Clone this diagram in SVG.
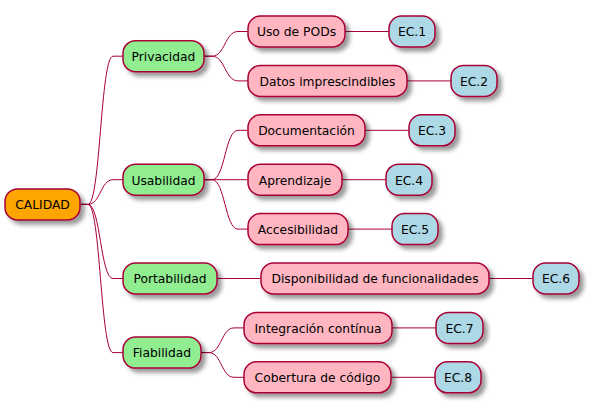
<svg xmlns="http://www.w3.org/2000/svg" width="589" height="405" viewBox="0 0 589 405">
<defs>
<filter id="sh" x="-1" y="-1" width="300%" height="300%">
<feGaussianBlur stdDeviation="2" result="b"/>
<feColorMatrix in="b" type="matrix" values="0 0 0 0 0 0 0 0 0 0 0 0 0 0 0 0 0 0 .4 0" result="b2"/>
<feOffset dx="4" dy="4" in="b2" result="b3"/>
<feBlend in="SourceGraphic" in2="b3" mode="normal"/>
</filter>
</defs>
<style>
rect{stroke:#A80036;stroke-width:1.5;filter:url(#sh)}
.root{fill:#FFA500}
.l1{fill:#90EE90}
.l2{fill:#FFB6C1}
.l3{fill:#ADD8E6}
text{font-family:"DejaVu Sans",sans-serif;font-size:12.3px;fill:#000;text-anchor:middle}
#links path{fill:none;stroke:#A80036;stroke-width:1}
</style>
<g id="links">
<path d="M80,204.4 L88,204.4 C100.5,204.4 100.5,56.2 113,56.2 L123,56.2"/>
<path d="M80,204.4 L88,204.4 C100.5,204.4 100.5,179.7 113,179.7 L123,179.7"/>
<path d="M80,204.4 L88,204.4 C100.5,204.4 100.5,278.5 113,278.5 L123,278.5"/>
<path d="M80,204.4 L88,204.4 C100.5,204.4 100.5,352.6 113,352.6 L123,352.6"/>
<path d="M204,56.2 L212,56.2 C225,56.2 225,31.5 238,31.5 L248,31.5"/>
<path d="M204,56.2 L212,56.2 C225,56.2 225,80.9 238,80.9 L248,80.9"/>
<path d="M204,179.7 L212,179.7 C225,179.7 225,130.3 238,130.3 L248,130.3"/>
<path d="M204,179.7 L248,179.7"/>
<path d="M204,179.7 L212,179.7 C225,179.7 225,229.1 238,229.1 L248,229.1"/>
<path d="M217,278.5 L261,278.5"/>
<path d="M201,352.6 L209,352.6 C221.5,352.6 221.5,327.9 234,327.9 L244,327.9"/>
<path d="M201,352.6 L209,352.6 C221.5,352.6 221.5,377.3 234,377.3 L244,377.3"/>
<path d="M345,31.5 L389,31.5"/>
<path d="M407,80.9 L451,80.9"/>
<path d="M365,130.3 L409,130.3"/>
<path d="M342,179.7 L386,179.7"/>
<path d="M348,229.1 L392,229.1"/>
<path d="M489,278.5 L533,278.5"/>
<path d="M392,327.9 L436,327.9"/>
<path d="M391,377.3 L435,377.3"/>
</g>
<g id="n-calidad"><rect class="root" x="5" y="188.9" width="75" height="31" rx="12.5"/><text x="42.5" y="209.2">CALIDAD</text></g>
<g id="n-privacidad"><rect class="l1" x="123" y="40.7" width="81" height="31" rx="12.5"/><text x="163.5" y="61">Privacidad</text></g>
<g id="n-usabilidad"><rect class="l1" x="123" y="164.2" width="81" height="31" rx="12.5"/><text x="163.5" y="184.5">Usabilidad</text></g>
<g id="n-portabilidad"><rect class="l1" x="123" y="263" width="94" height="31" rx="12.5"/><text x="170" y="283.3">Portabilidad</text></g>
<g id="n-fiabilidad"><rect class="l1" x="123" y="337.1" width="78" height="31" rx="12.5"/><text x="162" y="357.4">Fiabilidad</text></g>
<g id="n-pods"><rect class="l2" x="248" y="16" width="97" height="31" rx="12.5"/><text x="296.5" y="36.3">Uso de PODs</text></g>
<g id="n-datos"><rect class="l2" x="248" y="65.4" width="159" height="31" rx="12.5"/><text x="327.5" y="85.7">Datos imprescindibles</text></g>
<g id="n-doc"><rect class="l2" x="248" y="114.8" width="117" height="31" rx="12.5"/><text x="306.5" y="135.1">Documentación</text></g>
<g id="n-apr"><rect class="l2" x="248" y="164.2" width="94" height="31" rx="12.5"/><text x="295" y="184.5">Aprendizaje</text></g>
<g id="n-acc"><rect class="l2" x="248" y="213.6" width="100" height="31" rx="12.5"/><text x="298" y="233.9">Accesibilidad</text></g>
<g id="n-disp"><rect class="l2" x="261" y="263" width="228" height="31" rx="12.5"/><text x="375" y="283.3">Disponibilidad de funcionalidades</text></g>
<g id="n-int"><rect class="l2" x="244" y="312.4" width="148" height="31" rx="12.5"/><text x="318" y="332.7">Integración contínua</text></g>
<g id="n-cob"><rect class="l2" x="244" y="361.8" width="147" height="31" rx="12.5"/><text x="317.5" y="382.1">Cobertura de código</text></g>
<g id="n-ec1"><rect class="l3" x="389" y="16" width="46" height="31" rx="12.5"/><text x="412" y="36.3">EC.1</text></g>
<g id="n-ec2"><rect class="l3" x="451" y="65.4" width="46" height="31" rx="12.5"/><text x="474" y="85.7">EC.2</text></g>
<g id="n-ec3"><rect class="l3" x="409" y="114.8" width="46" height="31" rx="12.5"/><text x="432" y="135.1">EC.3</text></g>
<g id="n-ec4"><rect class="l3" x="386" y="164.2" width="46" height="31" rx="12.5"/><text x="409" y="184.5">EC.4</text></g>
<g id="n-ec5"><rect class="l3" x="392" y="213.6" width="46" height="31" rx="12.5"/><text x="415" y="233.9">EC.5</text></g>
<g id="n-ec6"><rect class="l3" x="533" y="263" width="46" height="31" rx="12.5"/><text x="556" y="283.3">EC.6</text></g>
<g id="n-ec7"><rect class="l3" x="436" y="312.4" width="47" height="31" rx="12.5"/><text x="459.5" y="332.7">EC.7</text></g>
<g id="n-ec8"><rect class="l3" x="435" y="361.8" width="46" height="31" rx="12.5"/><text x="458" y="382.1">EC.8</text></g>
</svg>
